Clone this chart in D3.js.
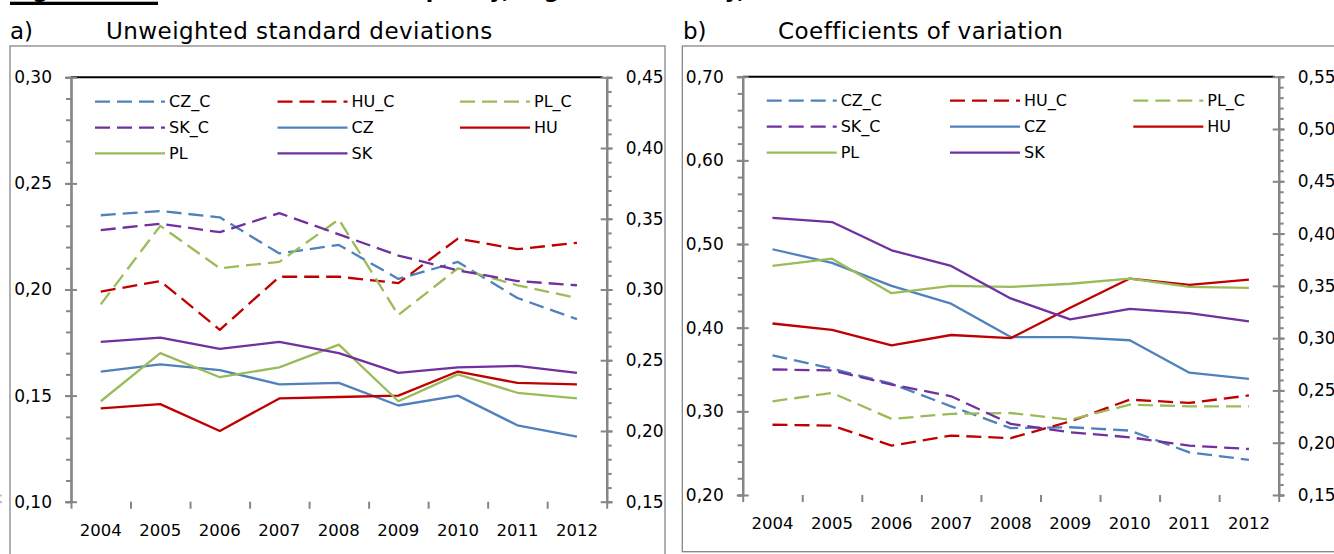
<!DOCTYPE html>
<html>
<head>
<meta charset="utf-8">
<script src="https://cdn.jsdelivr.net/npm/d3@7"></script>
<style>
  body { margin: 0; background: #fff; }
  svg { display: block; }
  text { font-family: "DejaVu Sans", Verdana, sans-serif; fill: #000; }
</style>
</head>
<body>
<div id="viz"></div>
<script>
let w = 1334;
let h = 554;

// data
let years = [2004, 2005, 2006, 2007, 2008, 2009, 2010, 2011, 2012];
let seriesNames = ["CZ_C", "HU_C", "PL_C", "SK_C", "CZ", "HU", "PL", "SK"];

// a) unweighted standard deviations (_C on left axis, others on right axis)
let sd_CZ_C = [0.235, 0.237, 0.234, 0.217, 0.221, 0.205, 0.213, 0.196, 0.186];
let sd_HU_C = [0.199, 0.204, 0.181, 0.206, 0.206, 0.203, 0.224, 0.219, 0.222];
let sd_PL_C = [0.193, 0.230, 0.210, 0.213, 0.233, 0.188, 0.210, 0.202, 0.196];
let sd_SK_C = [0.228, 0.231, 0.227, 0.236, 0.226, 0.216, 0.209, 0.204, 0.202];
let sd_CZ = [0.242, 0.247, 0.243, 0.233, 0.234, 0.218, 0.225, 0.204, 0.196];
let sd_HU = [0.216, 0.219, 0.200, 0.223, 0.224, 0.225, 0.242, 0.234, 0.233];
let sd_PL = [0.221, 0.255, 0.238, 0.245, 0.261, 0.221, 0.240, 0.227, 0.223];
let sd_SK = [0.263, 0.266, 0.258, 0.263, 0.255, 0.241, 0.245, 0.246, 0.241];

// b) coefficients of variation
let cv_CZ_C = [0.367, 0.351, 0.333, 0.306, 0.280, 0.281, 0.277, 0.251, 0.242];
let cv_HU_C = [0.284, 0.283, 0.259, 0.271, 0.268, 0.288, 0.314, 0.310, 0.319];
let cv_PL_C = [0.312, 0.322, 0.291, 0.297, 0.298, 0.290, 0.308, 0.306, 0.306];
let cv_SK_C = [0.350, 0.349, 0.332, 0.318, 0.285, 0.275, 0.269, 0.259, 0.255];
let cv_CZ = [0.385, 0.372, 0.350, 0.333, 0.301, 0.301, 0.298, 0.267, 0.261];
let cv_HU = [0.314, 0.308, 0.293, 0.303, 0.300, 0.329, 0.357, 0.351, 0.356];
let cv_PL = [0.369, 0.376, 0.343, 0.350, 0.349, 0.352, 0.357, 0.349, 0.348];
let cv_SK = [0.415, 0.411, 0.384, 0.369, 0.338, 0.318, 0.328, 0.324, 0.316];

// axis ticks
let sdLeftTicks = [0.10, 0.15, 0.20, 0.25, 0.30];
let sdRightTicks = [0.15, 0.20, 0.25, 0.30, 0.35, 0.40, 0.45];
let cvLeftTicks = [0.20, 0.30, 0.40, 0.50, 0.60, 0.70];
let cvRightTicks = [0.15, 0.20, 0.25, 0.30, 0.35, 0.40, 0.45, 0.50, 0.55];

let colors = { CZ: "#4F81BD", HU: "#C00000", PL: "#9BBB59", SK: "#7030A0" };
let axisColor = "#868686";
let dash = "15,7";
let fmt = d => d3.format(".2f")(d).replace(".", ",");

let viz = d3.select("#viz")
  .append("svg")
    .attr("width", w)
    .attr("height", h)
    .attr("viewBox", "0 0 " + w + " " + h);

// figure heading, cut off by the top edge (only its underline and descenders show)
viz.append("rect").attr("x", 10).attr("y", 1.7).attr("width", 148).attr("height", 3.3).attr("fill", "#000");
viz.append("text").attr("x", 10).attr("y", -2)
  .attr("font-size", 22).attr("font-weight", "bold")
  .text("Figure 3");
viz.append("text").attr("x", 220).attr("y", -2)
  .attr("font-size", 22).attr("font-weight", "bold")
  .text("Measures of inequality, regional economy, 2004-2012");

let panels = [
  {
    letter: "a)", title: "Unweighted standard deviations",
    frame: [10, 46, 655, 520], titleX: 10, nameX: 106,
    x0: 71, x1: 606.7, yTop: 77.3, yBot: 501.7,
    left: [0.10, 0.30], right: [0.15, 0.45],
    leftTicks: sdLeftTicks, rightTicks: sdRightTicks, leftMinor: 0.01, rightMinor: 0.01,
    data: { CZ_C: sd_CZ_C, HU_C: sd_HU_C, PL_C: sd_PL_C, SK_C: sd_SK_C, CZ: sd_CZ, HU: sd_HU, PL: sd_PL, SK: sd_SK },
    legendCols: [95, 277.5, 460], legendRows: [101.7, 127.7, 153.3],
    labelY: 536
  },
  {
    letter: "b)", title: "Coefficients of variation",
    frame: [682.3, 46, 700, 505.7], titleX: 683, nameX: 778,
    x0: 742.7, x1: 1278.7, yTop: 76.7, yBot: 495,
    left: [0.20, 0.70], right: [0.15, 0.55],
    leftTicks: cvLeftTicks, rightTicks: cvRightTicks, leftMinor: 0.02, rightMinor: 0.01,
    data: { CZ_C: cv_CZ_C, HU_C: cv_HU_C, PL_C: cv_PL_C, SK_C: cv_SK_C, CZ: cv_CZ, HU: cv_HU, PL: cv_PL, SK: cv_SK },
    legendCols: [766.7, 950, 1133.3], legendRows: [100.7, 126.7, 152.7],
    labelY: 529
  }
];

panels.forEach(drawPanel);

function drawPanel(p) {
  let g = viz.append("g");

  // outer frame
  g.append("rect")
    .attr("x", p.frame[0]).attr("y", p.frame[1])
    .attr("width", p.frame[2]).attr("height", p.frame[3])
    .attr("fill", "none").attr("stroke", axisColor).attr("stroke-width", 1.3);

  // titles
  g.append("text").attr("x", p.titleX).attr("y", 39).attr("font-size", 23).text(p.letter);
  g.append("text").attr("x", p.nameX).attr("y", 39).attr("font-size", 23)
    .attr("letter-spacing", 0.45).text(p.title);

  let xScale = d3.scaleBand().domain(years).range([p.x0, p.x1]).paddingInner(0).paddingOuter(0);
  let cx = d => xScale(d) + xScale.bandwidth() / 2;
  let yLeft = d3.scaleLinear().domain(p.left).range([p.yBot, p.yTop]);
  let yRight = d3.scaleLinear().domain(p.right).range([p.yBot, p.yTop]);

  // top black line
  g.append("line")
    .attr("x1", p.x0).attr("x2", p.x1 - 4)
    .attr("y1", p.yTop).attr("y2", p.yTop)
    .attr("stroke", "#000").attr("stroke-width", 2);

  // minor ticks
  let leftMinor = d3.range(p.left[0], p.left[1] + 1e-9, p.leftMinor);
  let rightMinor = d3.range(p.right[0], p.right[1] + 1e-9, p.rightMinor);

  let lm = g.append("g").attr("transform", "translate(" + p.x0 + ",0)")
    .call(d3.axisLeft(yLeft).tickValues(leftMinor).tickSize(5).tickFormat(""));
  let rm = g.append("g").attr("transform", "translate(" + p.x1 + ",0)")
    .call(d3.axisRight(yRight).tickValues(rightMinor).tickSize(5).tickFormat(""));

  // major ticks (cross the axis line)
  let la = g.append("g").attr("transform", "translate(" + p.x0 + ",0)")
    .call(d3.axisLeft(yLeft).tickValues(p.leftTicks).tickSizeInner(6).tickSizeOuter(0).tickPadding(13).tickFormat(fmt));
  la.selectAll(".tick line").attr("x2", -6).attr("x1", 6);
  let ra = g.append("g").attr("transform", "translate(" + p.x1 + ",0)")
    .call(d3.axisRight(yRight).tickValues(p.rightTicks).tickSizeInner(6).tickSizeOuter(0).tickPadding(13).tickFormat(fmt));
  ra.selectAll(".tick line").attr("x2", 6).attr("x1", -6);

  // x axis: ticks at band boundaries
  let bounds = years.map(d => xScale(d)).concat([p.x1]);
  let xa = g.append("g").attr("transform", "translate(0," + p.yBot + ")")
    .call(d3.axisBottom(d3.scaleIdentity()).tickValues(bounds).tickSize(7).tickSizeOuter(0).tickFormat(""));

  [lm, rm, la, ra, xa].forEach(a => {
    a.selectAll("path, line").attr("stroke", axisColor).attr("stroke-width", 2);
    a.select(".domain").attr("stroke-width", 2.2);
  });
  g.selectAll(".tick text").attr("font-size", 17).attr("fill", "#000")
    .attr("font-family", "DejaVu Sans, Verdana, sans-serif");

  // year labels
  g.selectAll(".yearLabel").data(years).enter()
    .append("text")
    .attr("x", cx)
    .attr("y", p.labelY)
    .attr("text-anchor", "middle")
    .attr("font-size", 16.5)
    .text(d => d);

  // series
  let line = d3.line();
  seriesNames.forEach(name => {
    let dashed = name.endsWith("_C");
    let scale = dashed ? yLeft : yRight;
    let pts = p.data[name].map((v, i) => [cx(years[i]), scale(v)]);
    g.append("path")
      .attr("d", line(pts))
      .attr("fill", "none")
      .attr("stroke", colors[name.slice(0, 2)])
      .attr("stroke-width", 2.3)
      .attr("stroke-dasharray", dashed ? dash : null)
      .attr("stroke-linejoin", "round");
  });

  // legend
  seriesNames.forEach((name, i) => {
    let lx = p.legendCols[i % 3];
    let ly = p.legendRows[Math.floor(i / 3)];
    let dashed = name.endsWith("_C");
    g.append("line")
      .attr("x1", lx).attr("x2", lx + 70)
      .attr("y1", ly).attr("y2", ly)
      .attr("stroke", colors[name.slice(0, 2)])
      .attr("stroke-width", 2.3)
      .attr("stroke-dasharray", dashed ? dash : null);
    g.append("text")
      .attr("x", lx + 74).attr("y", ly)
      .attr("dy", "0.35em")
      .attr("font-size", 16)
      .text(name);
  });
}
</script>
</body>
</html>
